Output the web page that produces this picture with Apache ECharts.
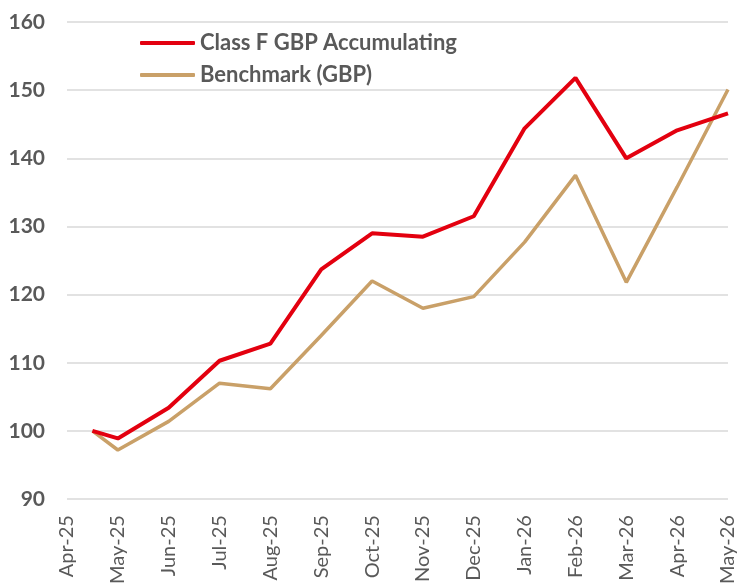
<!DOCTYPE html>
<html>
<head>
<meta charset="utf-8">
<script src="https://cdn.jsdelivr.net/npm/echarts@6/dist/echarts.min.js"></script>
<style>
html, body { margin: 0; padding: 0; background: #fff; }
#chart { width: 738px; height: 587px; }
</style>
</head>
<body>
<div id="chart"></div>
<script>
// month labels on the x axis, one per tick
const months = ['Apr-25', 'May-25', 'Jun-25', 'Jul-25', 'Aug-25', 'Sep-25', 'Oct-25',
	'Nov-25', 'Dec-25', 'Jan-26', 'Feb-26', 'Mar-26', 'Apr-26', 'May-26'];
// position of each observation on the month scale (first one is mid-April inception)
const obsPos = [0.5, 1, 2, 3, 4, 5, 6, 7, 8, 9, 10, 11, 12, 13];
const classF = [100, 98.9, 103.4, 110.3, 112.8, 123.7, 129.0, 128.5, 131.5, 144.4, 151.8, 140.0, 144.1, 146.6];
const benchmark = [100, 97.2, 101.4, 107.0, 106.2, 114.0, 122.0, 118.0, 119.7, 127.7, 137.5, 121.8, 135.8, 150.1];

const pair = (vals) => vals.map((v, i) => [obsPos[i], v]);
const grey = '#595959';
const font = 'Lato, "Open Sans", sans-serif';

const chart = echarts.init(document.getElementById('chart'));
chart.setOption({
	animation: false,
	textStyle: { fontFamily: font },
	grid: { left: 67, right: 10, top: 22, bottom: 85, containLabel: false },
	legend: {
		orient: 'vertical',
		left: 135,
		top: 27,
		itemWidth: 55,
		itemHeight: 4,
		itemGap: 10,
		icon: 'roundRect',
		textStyle: { color: grey, fontSize: 22, fontWeight: 'bold', fontFamily: font, padding: [0, 0, 0, 0] }
	},
	xAxis: {
		type: 'value',
		min: 0,
		max: 13,
		interval: 1,
		axisLine: { show: false },
		axisTick: { show: false },
		splitLine: { show: false },
		axisLabel: {
			rotate: 90,
			margin: 16,
			color: grey,
			fontSize: 20,
			fontFamily: font,
			formatter: (v) => months[Math.round(v)]
		}
	},
	yAxis: {
		type: 'value',
		min: 90,
		max: 160,
		interval: 10,
		axisLine: { show: false },
		axisTick: { show: false },
		splitLine: { lineStyle: { color: '#d9d9d9', width: 1.5 } },
		axisLabel: { color: grey, fontSize: 21, fontWeight: 'bold', margin: 22, fontFamily: font }
	},
	series: [{
		name: 'Class F GBP Accumulating',
		type: 'line',
		data: pair(classF),
		showSymbol: false,
		symbol: 'none',
		color: '#e3000f',
		lineStyle: { width: 4, color: '#e3000f' },
		z: 3
	}, {
		name: 'Benchmark (GBP)',
		type: 'line',
		data: pair(benchmark),
		showSymbol: false,
		symbol: 'none',
		color: '#c9a068',
		lineStyle: { width: 3.5, color: '#c9a068' },
		z: 2
	}]
});
</script>
</body>
</html>
